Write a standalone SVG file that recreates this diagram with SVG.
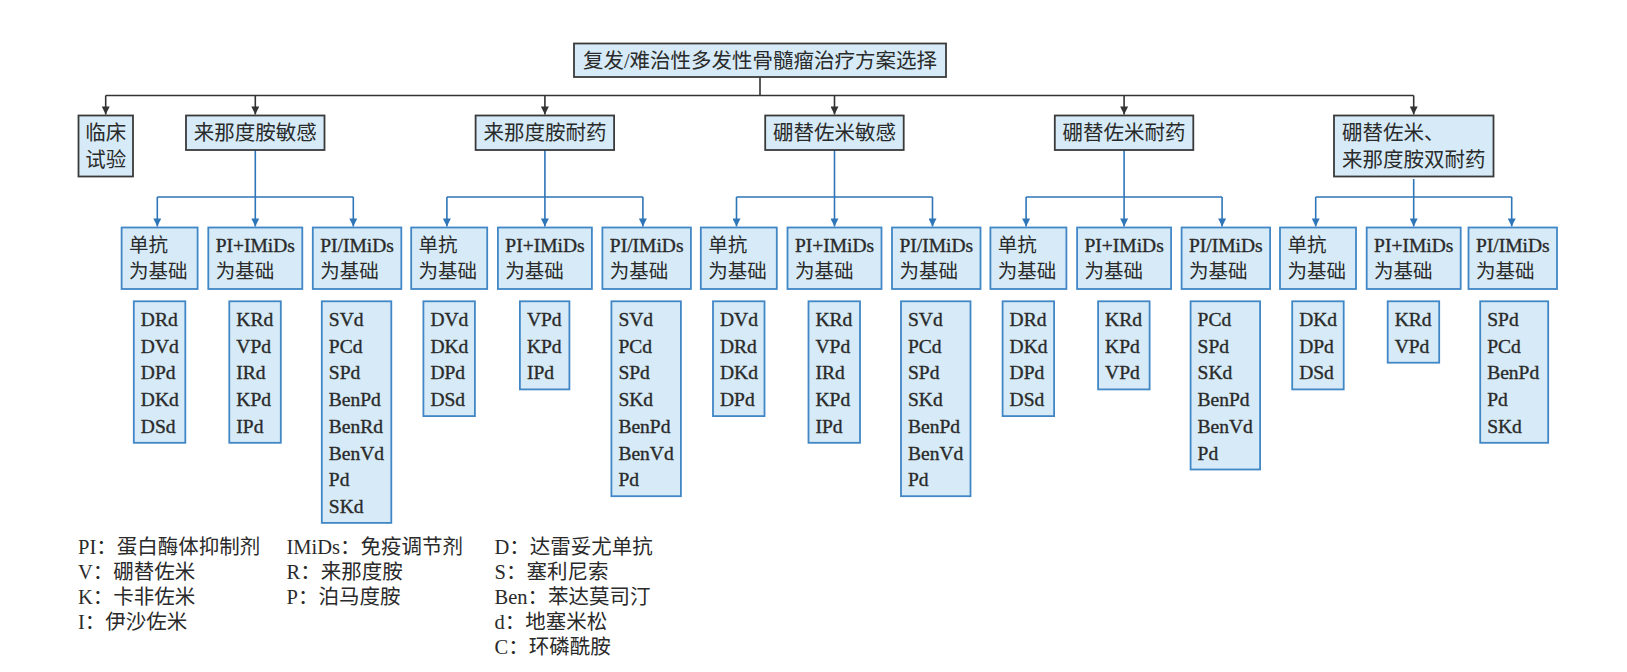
<svg xmlns="http://www.w3.org/2000/svg" width="1627" height="672" viewBox="0 0 1627 672">
<style>
.l1{fill:#d6ebf7;stroke:#3a3a3a;stroke-width:1.8}
.sb{fill:#d6ebf7;stroke:#4187c6;stroke-width:1.8}
.t{font-family:"Liberation Serif","Noto Sans CJK SC",serif;fill:#2a2a2a}
.f20{font-size:20.5px}
.f19{font-size:19.5px}
.lg{font-size:20.5px}
.hv{stroke:#2a2a2a;stroke-width:0.35}
.mid{text-anchor:middle}
.k{fill:none;stroke:#333;stroke-width:1.6}
.b{fill:none;stroke:#2f76b8;stroke-width:1.6}
</style>
<defs>
<marker id="ak" viewBox="0 0 10 10" refX="10" refY="5" markerWidth="9" markerHeight="8" orient="auto" markerUnits="userSpaceOnUse"><path d="M0,0 L10,5 L0,10 z" fill="#333"/></marker>
<marker id="ab" viewBox="0 0 10 10" refX="10" refY="5" markerWidth="9" markerHeight="8" orient="auto" markerUnits="userSpaceOnUse"><path d="M0,0 L10,5 L0,10 z" fill="#2f76b8"/></marker>
</defs>
<rect width="1627" height="672" fill="#fff"/>

<g id="connectors">
<path class="k" d="M760,77 V95.5 M105.7,95.5 H1413.7"/>
<path class="k" marker-end="url(#ak)" d="M105.7,95.5 V114.5"/>
<path class="k" marker-end="url(#ak)" d="M255.3,95.5 V114.5"/>
<path class="k" marker-end="url(#ak)" d="M544.9,95.5 V114.5"/>
<path class="k" marker-end="url(#ak)" d="M834.5,95.5 V114.5"/>
<path class="k" marker-end="url(#ak)" d="M1124.1,95.5 V114.5"/>
<path class="k" marker-end="url(#ak)" d="M1413.7,95.5 V114.5"/>

<path class="b" d="M255.3,150 V197 M157.3,197 H353.3"/>
<path class="b" marker-end="url(#ab)" d="M157.3,197 V226.5"/>
<path class="b" marker-end="url(#ab)" d="M255.3,197 V226.5"/>
<path class="b" marker-end="url(#ab)" d="M353.3,197 V226.5"/>

<path class="b" d="M544.9,150 V197 M446.9,197 H642.9"/>
<path class="b" marker-end="url(#ab)" d="M446.9,197 V226.5"/>
<path class="b" marker-end="url(#ab)" d="M544.9,197 V226.5"/>
<path class="b" marker-end="url(#ab)" d="M642.9,197 V226.5"/>

<path class="b" d="M834.5,150 V197 M736.5,197 H932.5"/>
<path class="b" marker-end="url(#ab)" d="M736.5,197 V226.5"/>
<path class="b" marker-end="url(#ab)" d="M834.5,197 V226.5"/>
<path class="b" marker-end="url(#ab)" d="M932.5,197 V226.5"/>

<path class="b" d="M1124.1,150 V197 M1026.1,197 H1222.1"/>
<path class="b" marker-end="url(#ab)" d="M1026.1,197 V226.5"/>
<path class="b" marker-end="url(#ab)" d="M1124.1,197 V226.5"/>
<path class="b" marker-end="url(#ab)" d="M1222.1,197 V226.5"/>

<path class="b" d="M1413.7,179 V197 M1315.7,197 H1511.7"/>
<path class="b" marker-end="url(#ab)" d="M1315.7,197 V226.5"/>
<path class="b" marker-end="url(#ab)" d="M1413.7,197 V226.5"/>
<path class="b" marker-end="url(#ab)" d="M1511.7,197 V226.5"/>
</g>

<g id="title">
<rect class="l1" x="574" y="43.5" width="372" height="33.5"/>
<text class="t f20 mid" x="760" y="67.5">复发/难治性多发性骨髓瘤治疗方案选择</text>
</g>

<g id="n-trial">
<rect class="l1" x="78.5" y="115.5" width="54.5" height="61"/>
<text class="t f20 mid" x="105.7" y="139.5">临床</text>
<text class="t f20 mid" x="105.7" y="166.5">试验</text>
</g>
<g id="n-r-sens">
<rect class="l1" x="186" y="115.5" width="138.5" height="34.5"/>
<text class="t f20 mid" x="255.3" y="139.5">来那度胺敏感</text>
</g>
<g id="n-r-res">
<rect class="l1" x="475.6" y="115.5" width="138.5" height="34.5"/>
<text class="t f20 mid" x="544.9" y="139.5">来那度胺耐药</text>
</g>
<g id="n-v-sens">
<rect class="l1" x="765.2" y="115.5" width="138.5" height="34.5"/>
<text class="t f20 mid" x="834.5" y="139.5">硼替佐米敏感</text>
</g>
<g id="n-v-res">
<rect class="l1" x="1054.8" y="115.5" width="138.5" height="34.5"/>
<text class="t f20 mid" x="1124.1" y="139.5">硼替佐米耐药</text>
</g>
<g id="n-double">
<rect class="l1" x="1334" y="115.5" width="159.5" height="61"/>
<text class="t f20" x="1342" y="139.5">硼替佐米、</text>
<text class="t f20" x="1342" y="166.5">来那度胺双耐药</text>
</g>

<!-- Group 1 -->
<g id="g1-mab"><rect class="sb" x="121.6" y="227.5" width="76" height="61.5"/><text class="t f19" x="129" y="252">单抗</text><text class="t f19" x="129" y="278">为基础</text></g>
<g id="g1-pi-imid"><rect class="sb" x="208.3" y="227.5" width="94" height="61.5"/><text class="t f19 hv" x="215.7" y="252">PI+IMiDs</text><text class="t f19" x="215.7" y="278">为基础</text></g>
<g id="g1-pi-or-imid"><rect class="sb" x="312.8" y="227.5" width="88.5" height="61.5"/><text class="t f19 hv" x="320.2" y="252">PI/IMiDs</text><text class="t f19" x="320.2" y="278">为基础</text></g>
<g id="g1-mab-list"><rect class="sb" x="133.8" y="301.3" width="51.5" height="141.5"/><text class="t f19 hv"><tspan x="140.8" y="326">DRd</tspan><tspan x="140.8" y="352.7">DVd</tspan><tspan x="140.8" y="379.4">DPd</tspan><tspan x="140.8" y="406.1">DKd</tspan><tspan x="140.8" y="432.8">DSd</tspan></text></g>
<g id="g1-pi-imid-list"><rect class="sb" x="229.3" y="301.3" width="51.5" height="141.5"/><text class="t f19 hv"><tspan x="236.3" y="326">KRd</tspan><tspan x="236.3" y="352.7">VPd</tspan><tspan x="236.3" y="379.4">IRd</tspan><tspan x="236.3" y="406.1">KPd</tspan><tspan x="236.3" y="432.8">IPd</tspan></text></g>
<g id="g1-pi-or-imid-list"><rect class="sb" x="321.8" y="301.3" width="69.5" height="221.6"/><text class="t f19 hv"><tspan x="328.8" y="326">SVd</tspan><tspan x="328.8" y="352.7">PCd</tspan><tspan x="328.8" y="379.4">SPd</tspan><tspan x="328.8" y="406.1">BenPd</tspan><tspan x="328.8" y="432.8">BenRd</tspan><tspan x="328.8" y="459.5">BenVd</tspan><tspan x="328.8" y="486.2">Pd</tspan><tspan x="328.8" y="512.9">SKd</tspan></text></g>

<!-- Group 2 -->
<g id="g2-mab"><rect class="sb" x="411.2" y="227.5" width="76" height="61.5"/><text class="t f19" x="418.6" y="252">单抗</text><text class="t f19" x="418.6" y="278">为基础</text></g>
<g id="g2-pi-imid"><rect class="sb" x="497.9" y="227.5" width="94" height="61.5"/><text class="t f19 hv" x="505.3" y="252">PI+IMiDs</text><text class="t f19" x="505.3" y="278">为基础</text></g>
<g id="g2-pi-or-imid"><rect class="sb" x="602.4" y="227.5" width="88.5" height="61.5"/><text class="t f19 hv" x="609.8" y="252">PI/IMiDs</text><text class="t f19" x="609.8" y="278">为基础</text></g>
<g id="g2-mab-list"><rect class="sb" x="423.4" y="301.3" width="51.5" height="114.8"/><text class="t f19 hv"><tspan x="430.4" y="326">DVd</tspan><tspan x="430.4" y="352.7">DKd</tspan><tspan x="430.4" y="379.4">DPd</tspan><tspan x="430.4" y="406.1">DSd</tspan></text></g>
<g id="g2-pi-imid-list"><rect class="sb" x="519.9" y="301.3" width="49.5" height="88.1"/><text class="t f19 hv"><tspan x="526.9" y="326">VPd</tspan><tspan x="526.9" y="352.7">KPd</tspan><tspan x="526.9" y="379.4">IPd</tspan></text></g>
<g id="g2-pi-or-imid-list"><rect class="sb" x="611.4" y="301.3" width="69.5" height="194.9"/><text class="t f19 hv"><tspan x="618.4" y="326">SVd</tspan><tspan x="618.4" y="352.7">PCd</tspan><tspan x="618.4" y="379.4">SPd</tspan><tspan x="618.4" y="406.1">SKd</tspan><tspan x="618.4" y="432.8">BenPd</tspan><tspan x="618.4" y="459.5">BenVd</tspan><tspan x="618.4" y="486.2">Pd</tspan></text></g>

<!-- Group 3 -->
<g id="g3-mab"><rect class="sb" x="700.8" y="227.5" width="76" height="61.5"/><text class="t f19" x="708.2" y="252">单抗</text><text class="t f19" x="708.2" y="278">为基础</text></g>
<g id="g3-pi-imid"><rect class="sb" x="787.5" y="227.5" width="94" height="61.5"/><text class="t f19 hv" x="794.9" y="252">PI+IMiDs</text><text class="t f19" x="794.9" y="278">为基础</text></g>
<g id="g3-pi-or-imid"><rect class="sb" x="892" y="227.5" width="88.5" height="61.5"/><text class="t f19 hv" x="899.4" y="252">PI/IMiDs</text><text class="t f19" x="899.4" y="278">为基础</text></g>
<g id="g3-mab-list"><rect class="sb" x="713" y="301.3" width="51.5" height="114.8"/><text class="t f19 hv"><tspan x="720" y="326">DVd</tspan><tspan x="720" y="352.7">DRd</tspan><tspan x="720" y="379.4">DKd</tspan><tspan x="720" y="406.1">DPd</tspan></text></g>
<g id="g3-pi-imid-list"><rect class="sb" x="808.5" y="301.3" width="51.5" height="141.5"/><text class="t f19 hv"><tspan x="815.5" y="326">KRd</tspan><tspan x="815.5" y="352.7">VPd</tspan><tspan x="815.5" y="379.4">IRd</tspan><tspan x="815.5" y="406.1">KPd</tspan><tspan x="815.5" y="432.8">IPd</tspan></text></g>
<g id="g3-pi-or-imid-list"><rect class="sb" x="901" y="301.3" width="69.5" height="194.9"/><text class="t f19 hv"><tspan x="908" y="326">SVd</tspan><tspan x="908" y="352.7">PCd</tspan><tspan x="908" y="379.4">SPd</tspan><tspan x="908" y="406.1">SKd</tspan><tspan x="908" y="432.8">BenPd</tspan><tspan x="908" y="459.5">BenVd</tspan><tspan x="908" y="486.2">Pd</tspan></text></g>

<!-- Group 4 -->
<g id="g4-mab"><rect class="sb" x="990.4" y="227.5" width="76" height="61.5"/><text class="t f19" x="997.8" y="252">单抗</text><text class="t f19" x="997.8" y="278">为基础</text></g>
<g id="g4-pi-imid"><rect class="sb" x="1077.1" y="227.5" width="94" height="61.5"/><text class="t f19 hv" x="1084.5" y="252">PI+IMiDs</text><text class="t f19" x="1084.5" y="278">为基础</text></g>
<g id="g4-pi-or-imid"><rect class="sb" x="1181.6" y="227.5" width="88.5" height="61.5"/><text class="t f19 hv" x="1189" y="252">PI/IMiDs</text><text class="t f19" x="1189" y="278">为基础</text></g>
<g id="g4-mab-list"><rect class="sb" x="1002.6" y="301.3" width="51.5" height="114.8"/><text class="t f19 hv"><tspan x="1009.6" y="326">DRd</tspan><tspan x="1009.6" y="352.7">DKd</tspan><tspan x="1009.6" y="379.4">DPd</tspan><tspan x="1009.6" y="406.1">DSd</tspan></text></g>
<g id="g4-pi-imid-list"><rect class="sb" x="1098.1" y="301.3" width="51.5" height="88.1"/><text class="t f19 hv"><tspan x="1105.1" y="326">KRd</tspan><tspan x="1105.1" y="352.7">KPd</tspan><tspan x="1105.1" y="379.4">VPd</tspan></text></g>
<g id="g4-pi-or-imid-list"><rect class="sb" x="1190.6" y="301.3" width="69.5" height="168.2"/><text class="t f19 hv"><tspan x="1197.6" y="326">PCd</tspan><tspan x="1197.6" y="352.7">SPd</tspan><tspan x="1197.6" y="379.4">SKd</tspan><tspan x="1197.6" y="406.1">BenPd</tspan><tspan x="1197.6" y="432.8">BenVd</tspan><tspan x="1197.6" y="459.5">Pd</tspan></text></g>

<!-- Group 5 -->
<g id="g5-mab"><rect class="sb" x="1280" y="227.5" width="76" height="61.5"/><text class="t f19" x="1287.4" y="252">单抗</text><text class="t f19" x="1287.4" y="278">为基础</text></g>
<g id="g5-pi-imid"><rect class="sb" x="1366.7" y="227.5" width="94" height="61.5"/><text class="t f19 hv" x="1374.1" y="252">PI+IMiDs</text><text class="t f19" x="1374.1" y="278">为基础</text></g>
<g id="g5-pi-or-imid"><rect class="sb" x="1468.5" y="227.5" width="88.5" height="61.5"/><text class="t f19 hv" x="1475.9" y="252">PI/IMiDs</text><text class="t f19" x="1475.9" y="278">为基础</text></g>
<g id="g5-mab-list"><rect class="sb" x="1292.2" y="301.3" width="51.5" height="88.1"/><text class="t f19 hv"><tspan x="1299.2" y="326">DKd</tspan><tspan x="1299.2" y="352.7">DPd</tspan><tspan x="1299.2" y="379.4">DSd</tspan></text></g>
<g id="g5-pi-imid-list"><rect class="sb" x="1387.7" y="301.3" width="51.5" height="61.4"/><text class="t f19 hv"><tspan x="1394.7" y="326">KRd</tspan><tspan x="1394.7" y="352.7">VPd</tspan></text></g>
<g id="g5-pi-or-imid-list"><rect class="sb" x="1480.2" y="301.3" width="68" height="141.5"/><text class="t f19 hv"><tspan x="1487.2" y="326">SPd</tspan><tspan x="1487.2" y="352.7">PCd</tspan><tspan x="1487.2" y="379.4">BenPd</tspan><tspan x="1487.2" y="406.1">Pd</tspan><tspan x="1487.2" y="432.8">SKd</tspan></text></g>

<g id="legend" class="t lg">
<text x="78" y="554">PI：蛋白酶体抑制剂</text>
<text x="78" y="579">V：硼替佐米</text>
<text x="78" y="604">K：卡非佐米</text>
<text x="78" y="629">I：伊沙佐米</text>
<text x="286.5" y="554">IMiDs：免疫调节剂</text>
<text x="286.5" y="579">R：来那度胺</text>
<text x="286.5" y="604">P：泊马度胺</text>
<text x="494.5" y="554">D：达雷妥尤单抗</text>
<text x="494.5" y="579">S：塞利尼索</text>
<text x="494.5" y="604">Ben：苯达莫司汀</text>
<text x="494.5" y="629">d：地塞米松</text>
<text x="494.5" y="654">C：环磷酰胺</text>
</g>
</svg>
